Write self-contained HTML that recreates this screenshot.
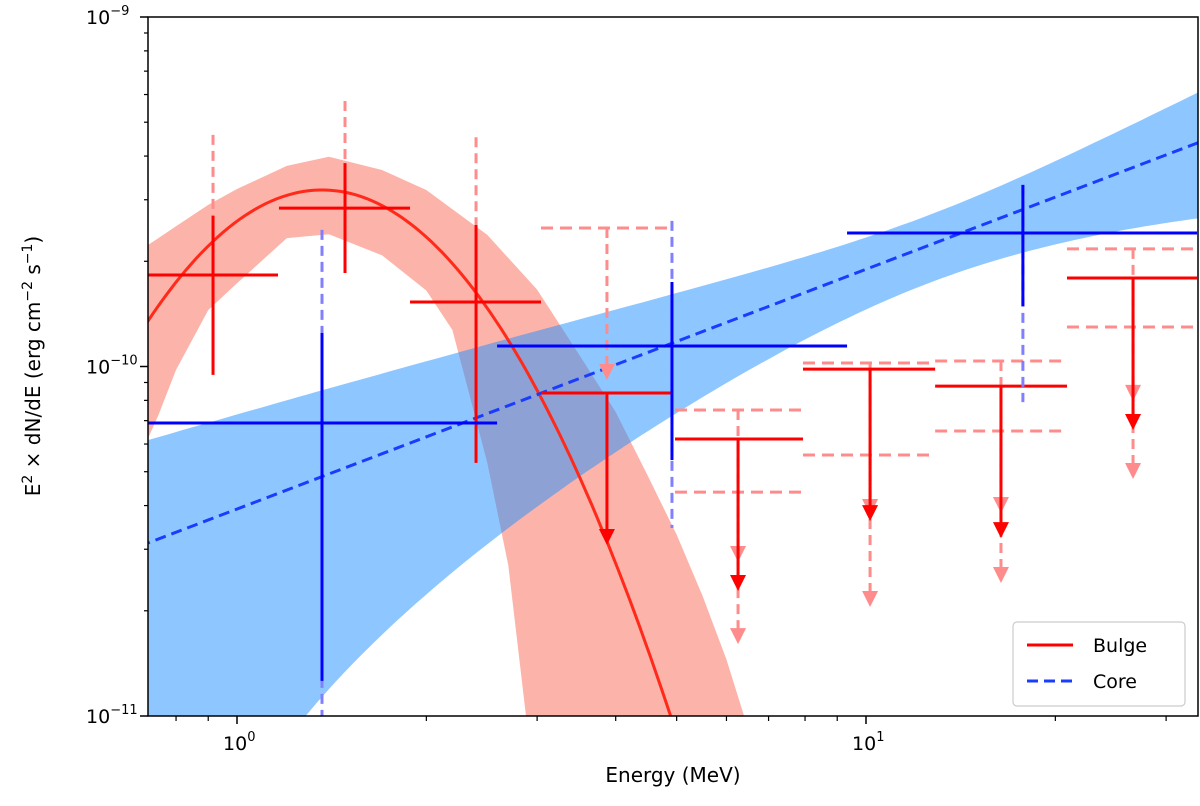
<!DOCTYPE html>
<html><head><meta charset="utf-8"><style>
html,body{margin:0;padding:0;background:#fff;overflow:hidden;width:1200px;height:806px;}
svg{display:block;overflow:hidden;font-family:"DejaVu Sans","Liberation Sans",sans-serif;}
</style></head><body>
<svg id="chart" width="1200" height="806" viewBox="0 0 1200 806">
<defs><clipPath id="clip"><rect x="148" y="17" width="1050" height="699"/></clipPath></defs>
<g id="plot" clip-path="url(#clip)"></g>
<g id="axes"></g>
</svg>
<script>
// ---- data ----
const bandE_red_up = [0.72,0.75,0.8,0.9,1,1.2,1.4,1.7,2,2.5,3,3.5,4,4.5,5,5.5,6,6.4];
const bandF_red_up = [2.22e-10,2.33e-10,2.52e-10,2.90e-10,3.22e-10,3.75e-10,3.98e-10,3.65e-10,3.20e-10,2.38e-10,1.66e-10,1.08e-10,7.41e-11,4.86e-11,3.3e-11,2.2e-11,1.45e-11,1.0e-11];
const bandE_red_lo = [0.72,0.75,0.8,0.9,1,1.2,1.4,1.7,2,2.2,2.5,2.7,2.88];
const bandF_red_lo = [6.16e-11,7.26e-11,9.77e-11,1.45e-10,1.73e-10,2.33e-10,2.39e-10,2.08e-10,1.65e-10,1.272e-10,5.3e-11,2.70e-11,1.0e-11];
// core power law: norm at 1 MeV, index
const coreModel = [3.91e-11, 0.686];
// core band relative error: min rel. error, pivot log10(E), slope
const coreBand = [0.22, 1.1, 0.76];
// bulge log-parabola model: peak energy, peak flux, curvature
const bulgeModel = [1.365, 3.2e-10, 4.9];
// bulge detections
const redE = [0.916,1.485,2.399];
const redElo = [0.722,1.166,1.884];
const redEhi = [1.162,1.884,3.043];
const redF = [1.828e-10,2.84e-10,1.529e-10];
const redFlo = [9.46e-11,1.852e-10,5.30e-11];
const redFhi = [2.70e-10,3.82e-10,2.54e-10];
const redFsys = [4.60e-10,5.75e-10,4.53e-10];
// bulge upper limits
const ulE = [3.874,6.26,10.15,16.39,26.58];
const ulElo = [3.043,4.97,7.94,12.88,20.87];
const ulEhi = [4.897,7.94,12.88,20.87,33.6];
const ulF = [8.40e-11,6.20e-11,9.83e-11,8.79e-11,1.792e-10];
const ulFsysHi = [2.49e-10,7.51e-11,1.023e-10,1.037e-10,2.17e-10];
const ulFsysLo = [null,4.37e-11,5.58e-11,6.54e-11,1.297e-10];
// core points
const blueE = [1.365,4.915,17.76];
const blueElo = [0.722,2.591,9.33];
const blueEhi = [2.591,9.33,33.6];
const blueF = [6.89e-11,1.145e-10,2.41e-10];
const blueFlo = [1.26e-11,5.40e-11,1.49e-10];
const blueFhi = [1.247e-10,1.745e-10,3.31e-10];
const blueSysLo = [8e-12,3.45e-11,7.91e-11];
const blueSysHi = [2.46e-10,2.61e-10,3.31e-10];
const xTickVals = [1,10];
const xTickLabels = ["0","1"];
const yTickVals = [1e-11,1e-10,1e-9];
const yTickLabels = ["−11","−10","−9"];

// ---- axes ----
const X = v => 237 + 629*Math.log10(v);
const Y = v => 17 + 349.5*(-9 - Math.log10(v));
const NS="http://www.w3.org/2000/svg";
const plot=document.getElementById('plot'), axes=document.getElementById('axes');
function mk(tag, attrs, parent){const e=document.createElementNS(NS,tag);for(const k in attrs)e.setAttribute(k,attrs[k]);parent.appendChild(e);return e;}
function line(x1,y1,x2,y2,color,w,dash,parent){return mk('line',{x1,y1,x2,y2,stroke:color,'stroke-width':w,'stroke-dasharray':dash||'none'},parent);}
function arrow(x,yTop,color,dash,parent){
  const tip = yTop + 152;
  line(x,yTop,x,tip-14,color,3,dash,parent);
  mk('polygon',{points:`${x-8},${tip-16} ${x+8},${tip-16} ${x},${tip}`,fill:color},parent);
}

// red band (polyline)
let pts=bandE_red_up.map((e,i)=>X(e).toFixed(1)+','+Y(bandF_red_up[i]).toFixed(1));
for(let i=bandE_red_lo.length-1;i>=0;i--) pts.push(X(bandE_red_lo[i]).toFixed(1)+','+Y(bandF_red_lo[i]).toFixed(1));
let el=mk('polygon',{points:pts.join(' '),fill:'#fa8072','fill-opacity':0.6,'stroke-linejoin':'round'},plot);


// blue band from model
const upP=[], loP=[];
for(let i=0;i<=120;i++){
  const lx=-0.16+i*(1.72/120), e=Math.pow(10,lx);
  const f=coreModel[0]*Math.pow(e,coreModel[1]);
  const s=Math.sqrt(coreBand[0]*coreBand[0]+Math.pow(coreBand[2]*(lx-coreBand[1]),2));
  upP.push(X(e).toFixed(1)+','+Y(f*(1+s)).toFixed(1));
  loP.push(X(e).toFixed(1)+','+Math.min(900,Y(Math.max(f*(1-s),1e-14))).toFixed(1));
}
el=mk('polygon',{points:upP.concat(loP.reverse()).join(' '),fill:'#1e90ff','fill-opacity':0.5},plot);



// model curves
let d='';
for(let i=0;i<=200;i++){const lx=-0.15+i*(1.7/200);const e=Math.pow(10,lx);
 const lf=Math.log10(bulgeModel[1]) - bulgeModel[2]*Math.pow(lx-Math.log10(bulgeModel[0]),2);
 d+=(i?'L':'M')+X(e).toFixed(1)+','+Y(Math.pow(10,lf)).toFixed(1);}
el=mk('path',{d,fill:'none',stroke:'#ff2a1a','stroke-width':3},plot);


el=mk('line',{x1:X(0.7),y1:Y(coreModel[0]*Math.pow(0.7,coreModel[1])),x2:X(35),y2:Y(coreModel[0]*Math.pow(35,coreModel[1])),stroke:'#1a3cff','stroke-width':3,'stroke-dasharray':'11,6'},plot);



const RED='#ff0000', PINK='#ff8c8c', BLUE='#0000ff', LBLUE='#8080ff';
redE.forEach((e,i)=>{
  const g=mk('g',{},plot);
  
  
  line(X(e),Y(redFsys[i]),X(e),Y(redFhi[i]),PINK,3,'10,6',g);
  line(X(redElo[i]),Y(redF[i]),X(redEhi[i]),Y(redF[i]),RED,3,null,g);
  line(X(e),Y(redFhi[i]),X(e),Y(redFlo[i]),RED,3,null,g);
});
ulE.forEach((e,i)=>{
  const g=mk('g',{},plot);
  
  
  const x=X(e);
  line(X(ulElo[i]),Y(ulFsysHi[i]),X(ulEhi[i]),Y(ulFsysHi[i]),PINK,3,'12,7',g);
  arrow(x,Y(ulFsysHi[i]),PINK,'10,6',g);
  if(ulFsysLo[i]!==null){
    line(X(ulElo[i]),Y(ulFsysLo[i]),X(ulEhi[i]),Y(ulFsysLo[i]),PINK,3,'12,7',g);
    arrow(x,Y(ulFsysLo[i]),PINK,'10,6',g);
  }
  line(X(ulElo[i]),Y(ulF[i]),X(ulEhi[i]),Y(ulF[i]),RED,3,null,g);
  arrow(x,Y(ulF[i]),RED,null,g);
});
blueE.forEach((e,i)=>{
  const g=mk('g',{},plot);
  
  
  line(X(e),Y(blueSysHi[i]),X(e),Y(blueSysLo[i]),LBLUE,3,'10,6',g);
  line(X(blueElo[i]),Y(blueF[i]),X(blueEhi[i]),Y(blueF[i]),BLUE,3,null,g);
  line(X(e),Y(blueFhi[i]),X(e),Y(blueFlo[i]),BLUE,3,null,g);
});

el=mk('rect',{x:148,y:17,width:1050,height:699,fill:'none',stroke:'#000','stroke-width':1.5},axes);


xTickVals.forEach((v,i)=>{
  const x=X(v);
  line(x,716,x,724,'#000',1.5,null,axes);
  const t=mk('text',{x:x-14,y:750,'font-size':19,fill:'#000'},axes);
  
  
  t.textContent='10';
  const s=mk('tspan',{dy:-9,'font-size':13},t); s.textContent=xTickLabels[i];
});
[0.8,0.9,2,3,4,5,6,7,8,9,20,30].forEach(v=>{const x=X(v);line(x,716,x,721,'#000',1.2,null,axes);});
yTickVals.forEach((v,i)=>{
  const y=Y(v);
  line(140,y,148,y,'#000',1.5,null,axes);
  const t=mk('text',{x:86,y:y+7,'font-size':19,fill:'#000'},axes);
  
  
  t.textContent='10';
  const s=mk('tspan',{dy:-9,'font-size':13},t); s.textContent=yTickLabels[i];
});
for(let dec=-11;dec<-9;dec++){for(let m=2;m<=9;m++){const y=Y(m*Math.pow(10,dec));line(144,y,148,y,'#000',1.2,null,axes);}}
el=mk('text',{x:673,y:782,'font-size':20,'text-anchor':'middle',fill:'#000'},axes);


el.textContent='Energy (MeV)';
el=mk('text',{x:0,y:0,'font-size':20,'text-anchor':'middle',fill:'#000',transform:'translate(40,366) rotate(-90)'},axes);


el.innerHTML='E<tspan dy="-8" font-size="14">2</tspan><tspan dy="8"> × dN/dE (erg cm</tspan><tspan dy="-8" font-size="14">−2</tspan><tspan dy="8"> s</tspan><tspan dy="-8" font-size="14">−1</tspan><tspan dy="8">)</tspan>';
const lg=mk('g',{},axes);


mk('rect',{x:1013,y:622,width:172,height:84,rx:4,fill:'#fff','fill-opacity':0.85,stroke:'#ccc','stroke-width':1.2},lg);
const e1=mk('g',{},lg);


line(1027,645,1073,645,RED,3,null,e1);
let t=mk('text',{x:1093,y:652,'font-size':19,fill:'#000'},e1); t.textContent='Bulge';
const e2=mk('g',{},lg);


line(1027,681,1073,681,'#1a3cff',3,'11,6',e2);
t=mk('text',{x:1093,y:688,'font-size':19,fill:'#000'},e2); t.textContent='Core';
</script>
</body></html>
